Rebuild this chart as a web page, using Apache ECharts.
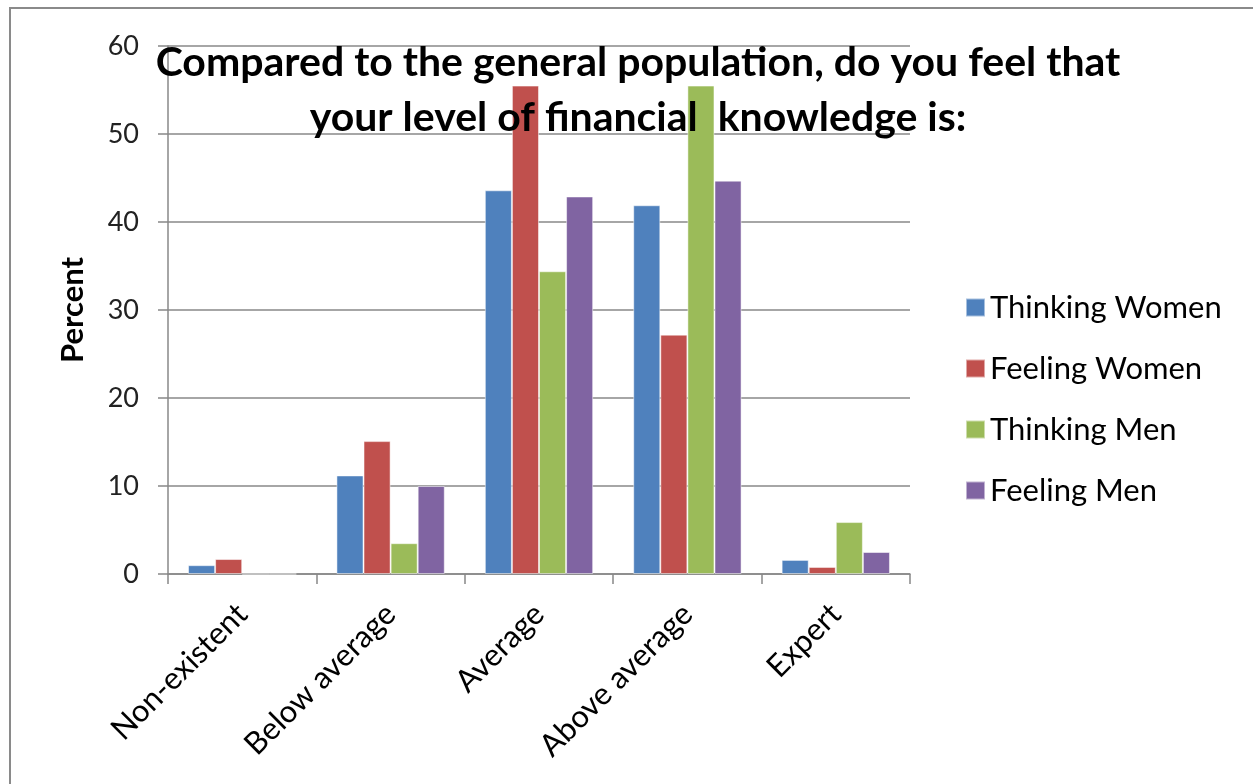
<!DOCTYPE html>
<html>
<head>
<meta charset="utf-8">
<script src="https://cdn.jsdelivr.net/npm/echarts@6/dist/echarts.min.js"></script>
<style>
  html, body { margin: 0; padding: 0; background: #fff; }
  #chart { width: 1253px; height: 784px; }
</style>
</head>
<body>
<div id="chart"></div>
<script>
// Self-rated financial knowledge by group (percent)
const categories = ['Non-existent', 'Below average', 'Average', 'Above average', 'Expert'];
const seriesNames = ['Thinking Women', 'Feeling Women', 'Thinking Men', 'Feeling Men'];
const thinkingWomen = [1.0, 11.2, 43.6, 41.9, 1.6];
const feelingWomen = [1.7, 15.1, 55.5, 27.2, 0.8];
const thinkingMen = [0, 3.5, 34.4, 55.5, 5.9];
const feelingMen = [0, 10.0, 42.9, 44.7, 2.5];
const yTicks = [0, 10, 20, 30, 40, 50, 60];
const colors = ['#4F81BD', '#C0504D', '#9BBB59', '#8064A2'];

const values = [thinkingWomen, feelingWomen, thinkingMen, feelingMen];
const font = 'Lato';

const chart = echarts.init(document.getElementById('chart'));
chart.setOption({
  animation: false,
  backgroundColor: '#fff',
  graphic: [{
    type: 'rect',
    shape: { x: 10, y: 8, width: 1300, height: 840 },
    style: { fill: 'none', stroke: '#8a8a8a', lineWidth: 2 },
    z: -1
  }],
  title: {
    text: 'Compared to the general population, do you feel that\nyour level of financial  knowledge is:',
    left: 633,
    top: 30,
    textAlign: 'center',
    textStyle: {
      fontFamily: font, fontWeight: 'bold', fontSize: 41, lineHeight: 55, color: '#000'
    }
  },
  legend: {
    orient: 'vertical',
    left: 960,
    top: 287,
    itemWidth: 19,
    itemHeight: 18,
    itemGap: 30,
    icon: 'rect',
    textStyle: { fontFamily: font, fontSize: 31, color: '#000', padding: [0, 0, 0, 0] },
    data: seriesNames
  },
  grid: { left: 168, right: 343, top: 46, bottom: 210, containLabel: false },
  xAxis: {
    type: 'category',
    data: categories,
    axisLine: { lineStyle: { color: '#888', width: 1.5 } },
    axisTick: { show: true, length: 10, lineStyle: { color: '#888', width: 1.5 } },
    axisLabel: {
      rotate: 45, margin: 35, fontFamily: font, fontSize: 31, color: '#000'
    }
  },
  yAxis: {
    type: 'value',
    min: 0, max: 60, interval: 10,
    name: 'Percent',
    nameLocation: 'middle',
    nameGap: 80,
    nameRotate: 90,
    nameTextStyle: { fontFamily: font, fontWeight: 'bold', fontSize: 31, color: '#000' },
    axisLine: { show: true, lineStyle: { color: '#888', width: 1.5 } },
    axisTick: { show: true, length: 10, lineStyle: { color: '#888', width: 1.5 } },
    splitLine: { lineStyle: { color: '#888', width: 1.5 } },
    axisLabel: {
      margin: 29, fontFamily: font, fontSize: 27, color: '#222',
      formatter: v => (yTicks.includes(v) ? String(v) : '')
    }
  },
  series: values.map((d, i) => ({
    name: seriesNames[i],
    type: 'bar',
    data: d,
    barGap: '0%',
    barCategoryGap: '27%',
    itemStyle: { color: colors[i], borderColor: 'rgba(255,255,255,0.5)', borderWidth: 1 }
  }))
});
</script>
</body>
</html>
